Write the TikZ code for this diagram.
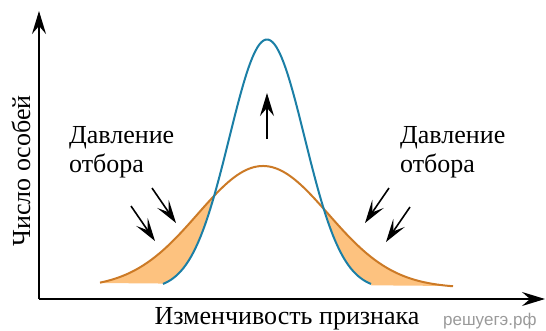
\documentclass[tikz,border=0pt]{standalone}
\usepackage{fontspec}
\setmainfont{Liberation Serif}
\newfontfamily\marksans{Liberation Sans}
\usetikzlibrary{arrows.meta}
\definecolor{curveblue}{HTML}{1B7FA6}
\definecolor{curveorange}{HTML}{CC7A26}
\definecolor{shadeorange}{HTML}{FDC27F}
\definecolor{markgray}{HTML}{9A9A9A}
\tikzset{
  axisline/.style={-{Stealth[length=23pt,width=14pt,inset=8pt]}, line width=1.5pt, draw=black},
  pressurearrow/.style={-{Stealth[length=23pt,width=14pt,inset=10pt]}, line width=1.6pt, draw=black},
  narrowcurve/.style={draw=curveblue, line width=2pt},
  widecurve/.style={draw=curveorange, line width=2pt},
  pressurelabel/.style={align=left, inner sep=0pt, font=\fontsize{26}{29}\selectfont},
  axislabel/.style={inner sep=0pt, font=\fontsize{26}{29}\selectfont},
  watermark/.style={inner sep=0pt, text=markgray, font=\marksans\fontsize{17}{20}\selectfont}
}

\begin{document}
\begin{tikzpicture}[x=1pt,y=-1pt]
\useasboundingbox (0,0) rectangle (546,330);

\fill[shadeorange] plot[domain=100:453, samples=150, smooth] (\x, {288-122*exp(-((\x-263)/100)^2/0.8522)}) -- (453,286) -- (100,283) -- cycle;
\fill[white] plot[domain=163:371, samples=120, smooth] (\x, {289.5-250*exp(-((\x-267)/100)^2/0.2844)}) -- (371,289) -- (163,289) -- cycle;
\draw[widecurve] plot[domain=100:453, samples=150, smooth] (\x, {288-122*exp(-((\x-263)/100)^2/0.8522)});
\draw[narrowcurve] plot[domain=163:371, samples=120, smooth] (\x, {289.5-250*exp(-((\x-267)/100)^2/0.2844)});

\coordinate (origin) at (39,299);
\coordinate (ytip) at (39,11);
\coordinate (xtip) at (545,299);
\draw[axisline] (origin) -- (ytip);
\draw[axisline] (origin) -- (xtip);

\coordinate (peakfoot) at (267,139);
\coordinate (peaktip) at (267,93);
\coordinate (leftouterfoot) at (131,206);
\coordinate (leftoutertip) at (155,241);
\coordinate (leftinnerfoot) at (152,188);
\coordinate (leftinnertip) at (176,223);
\coordinate (rightinnerfoot) at (389,188);
\coordinate (rightinnertip) at (365,223);
\coordinate (rightouterfoot) at (410,207);
\coordinate (rightoutertip) at (386,242);

\draw[axisline, line width=1.4pt] (peakfoot) -- (peaktip);
\foreach \from/\to in {leftouterfoot/leftoutertip, leftinnerfoot/leftinnertip, rightinnerfoot/rightinnertip, rightouterfoot/rightoutertip}
  \draw[pressurearrow] (\from) -- (\to);

\node[pressurelabel, anchor=base west] (leftpressure) at (69,172) {Давление\\отбора};
\node[pressurelabel, anchor=base west] (rightpressure) at (400,172) {Давление\\отбора};

\node[axislabel, anchor=base] (xlabel) at (287,324) {Изменчивость признака};
\node[axislabel, anchor=base, rotate=90] (ylabel) at (30,171) {Число особей};
\node[watermark, anchor=base west] (mark) at (443,325) {решуегэ.рф};
\end{tikzpicture}
\end{document}
